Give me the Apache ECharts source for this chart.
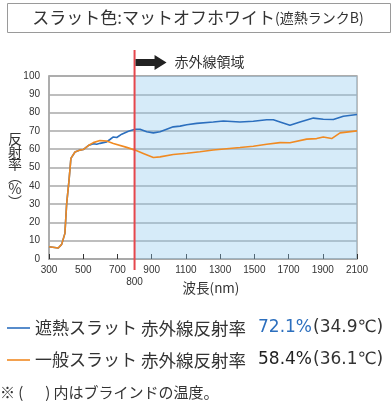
<!DOCTYPE html>
<html>
<head>
<meta charset="utf-8">
<script src="https://cdn.jsdelivr.net/npm/echarts@6/dist/echarts.min.js"></script>
<style>
  html, body { margin: 0; padding: 0; background: #fff; }
  #chart { width: 392px; height: 407px; }
</style>
</head>
<body>
<div id="chart"></div>
<script>
// Wavelength (nm) samples and reflectance (%) for each slat type
const coolWl  = [300, 354, 374, 393, 403, 417, 428, 452, 481, 500, 530, 559, 579, 598, 637, 656, 676, 696, 725, 764, 803, 832, 871, 910, 949, 1026, 1066, 1105, 1163, 1260, 1319, 1416, 1494, 1572, 1611, 1650, 1708, 1767, 1845, 1903, 1962, 2020, 2100];
const coolVal = [6.7, 6.0, 8, 14, 30, 43, 55, 58.5, 59.5, 59.8, 62, 63, 62.7, 63.2, 64, 65.3, 66.7, 66.4, 68.2, 69.8, 70.9, 70.9, 69.5, 68.9, 69.5, 72.2, 72.6, 73.4, 74.1, 74.9, 75.4, 74.9, 75.3, 76.1, 76.1, 74.9, 73.1, 74.9, 77.0, 76.4, 76.2, 78.0, 79.0];

const normalWl  = [300, 354, 374, 393, 403, 417, 428, 452, 481, 500, 530, 559, 598, 637, 676, 754, 803, 851, 910, 949, 1026, 1105, 1182, 1260, 1416, 1494, 1572, 1650, 1708, 1806, 1864, 1903, 1952, 2001, 2100];
const normalVal = [6.7, 6.0, 8, 14, 30, 43, 55, 58.5, 59.5, 59.8, 62, 63.6, 64.7, 64.5, 63.1, 61, 59.5, 57.7, 55.5, 55.8, 57.1, 57.8, 58.6, 59.6, 60.9, 61.6, 62.7, 63.6, 63.5, 65.5, 65.8, 66.7, 65.8, 68.9, 70];

const xTicks = { min: 300, max: 2100, step: 200 };
const yTicks = { min: 0, max: 100, step: 10 };
const irStart = 800;

const coolColor = '#2c6fbe';
const normalColor = '#f08a22';
const redColor = '#e5474d';
const fontCJK = '"Noto Sans CJK JP", "Noto Sans", sans-serif';
const fontNum = '"Liberation Sans", Arial, sans-serif';
const fontWide = '"DejaVu Sans", "Noto Sans CJK JP", sans-serif';

const pairs = (xs, ys) => xs.map((x, i) => [x, ys[i]]);

const chart = echarts.init(document.getElementById('chart'), null, { renderer: 'canvas' });

chart.setOption({
  animation: false,
  backgroundColor: '#fff',
  grid: { left: 49, right: 35, top: 76, bottom: 148, show: true, borderColor: '#a8a8a8', borderWidth: 1.5, backgroundColor: 'transparent' },
  xAxis: {
    type: 'value', min: xTicks.min, max: xTicks.max, interval: xTicks.step,
    axisLine: { lineStyle: { color: '#a8a8a8', width: 1.5 } },
    axisTick: { inside: true, length: 5, lineStyle: { color: '#333', width: 1 } },
    axisLabel: { color: '#333', fontSize: 10, fontFamily: fontNum, margin: 6, formatter: v => String(v) },
    splitLine: { show: false }
  },
  yAxis: {
    type: 'value', min: yTicks.min, max: yTicks.max, interval: yTicks.step,
    axisLine: { show: true, lineStyle: { color: '#a8a8a8', width: 1.5 } },
    axisTick: { show: false },
    axisLabel: { color: '#333', fontSize: 10, fontFamily: fontNum, margin: 9 },
    splitLine: { lineStyle: { color: '#a8a8a8', width: 1.5 } }
  },
  series: [
    {
      name: '一般スラット', type: 'line', data: pairs(normalWl, normalVal),
      showSymbol: false, smooth: false,
      lineStyle: { color: normalColor, width: 1.6 }, itemStyle: { color: normalColor },
      z: 3,
      markArea: {
        silent: true,
        itemStyle: { color: 'rgba(140,200,238,0.36)' },
        data: [[{ xAxis: irStart, yAxis: yTicks.min }, { xAxis: xTicks.max, yAxis: yTicks.max }]]
      }
    },
    {
      name: '遮熱スラット', type: 'line', data: pairs(coolWl, coolVal),
      showSymbol: false, smooth: false,
      lineStyle: { color: coolColor, width: 1.6 }, itemStyle: { color: coolColor },
      z: 2
    }
  ]
});

// Overlay: title box, infrared marker, axis names and legend text
const irX = chart.convertToPixel({ xAxisIndex: 0 }, irStart);
const yTop = chart.convertToPixel({ yAxisIndex: 0 }, yTicks.max);
const yBottom = chart.convertToPixel({ yAxisIndex: 0 }, yTicks.min);
const xMid = (chart.convertToPixel({ xAxisIndex: 0 }, xTicks.min) + chart.convertToPixel({ xAxisIndex: 0 }, xTicks.max)) / 2;

const legendRich = valueColor => ({
  a: { fontSize: 17, fontFamily: fontCJK, fill: '#333', width: 106 },
  b: { fontSize: 17.5, fontFamily: fontCJK, fill: '#333', width: 117 },
  v: { fontSize: 17, fontFamily: fontWide, fill: valueColor, width: 55 },
  p: { fontSize: 17, fontFamily: fontWide, fill: '#333' }
});

chart.setOption({
  graphic: [
    { type: 'rect', shape: { x: 7.5, y: 3.5, width: 383, height: 29 }, style: { fill: '#fff', stroke: '#9a9a9a', lineWidth: 1 } },
    {
      type: 'text', x: 198, y: 18,
      style: {
        text: '{a|スラット色:マットオフホワイト}{b|(遮熱ランクB)}',
        align: 'center', verticalAlign: 'middle',
        rich: {
          a: { fontSize: 17, fontFamily: fontCJK, fill: '#333' },
          b: { fontSize: 14, fontFamily: fontCJK, fill: '#333' }
        }
      }
    },
    { type: 'line', z: 10, shape: { x1: irX, y1: 50, x2: irX, y2: yBottom + 11 }, style: { stroke: redColor, lineWidth: 2 } },
    {
      type: 'polygon', z: 10,
      shape: { points: [[irX + 1, yTop - 17], [irX + 20, yTop - 17], [irX + 20, yTop - 21], [irX + 32, yTop - 13.5], [irX + 20, yTop - 6], [irX + 20, yTop - 10], [irX + 1, yTop - 10]] },
      style: { fill: '#222' }
    },
    { type: 'text', z: 10, x: irX + 40, y: yTop - 14, style: { text: '赤外線領域', fontSize: 14, fontFamily: fontCJK, fill: '#333', verticalAlign: 'middle' } },
    { type: 'text', x: irX, y: yBottom + 23, style: { text: '800', fontSize: 10, fontFamily: fontNum, fill: '#333', align: 'center', verticalAlign: 'middle' } },
    { type: 'text', x: xMid + 8, y: yBottom + 29, style: { text: '波長(nm)', fontSize: 13.5, fontFamily: fontCJK, fill: '#333', align: 'center', verticalAlign: 'middle' } },
    { type: 'text', x: 15, y: 170, style: { text: '反\n射\n率\n︵\n%\n︶', fontSize: 14, lineHeight: 12.5, fontFamily: fontCJK, fill: '#333', align: 'center', verticalAlign: 'middle' } },
    { type: 'line', shape: { x1: 7, y1: 328, x2: 30, y2: 328 }, style: { stroke: coolColor, lineWidth: 1.6 } },
    {
      type: 'text', x: 35, y: 328,
      style: {
        text: '{a|遮熱スラット}{b|赤外線反射率}{v|72.1%}{p|(34.9℃)}',
        verticalAlign: 'middle',
        rich: legendRich(coolColor)
      }
    },
    { type: 'line', shape: { x1: 7, y1: 360, x2: 30, y2: 360 }, style: { stroke: normalColor, lineWidth: 1.6 } },
    {
      type: 'text', x: 35, y: 360,
      style: {
        text: '{a|一般スラット}{b|赤外線反射率}{v|58.4%}{p|(36.1℃)}',
        verticalAlign: 'middle',
        rich: legendRich('#222')
      }
    },
    { type: 'text', x: 0, y: 392, style: { text: '※ (　  ) 内はブラインドの温度。', fontSize: 15, fontFamily: fontCJK, fill: '#333', verticalAlign: 'middle' } }
  ]
});
</script>
</body>
</html>
